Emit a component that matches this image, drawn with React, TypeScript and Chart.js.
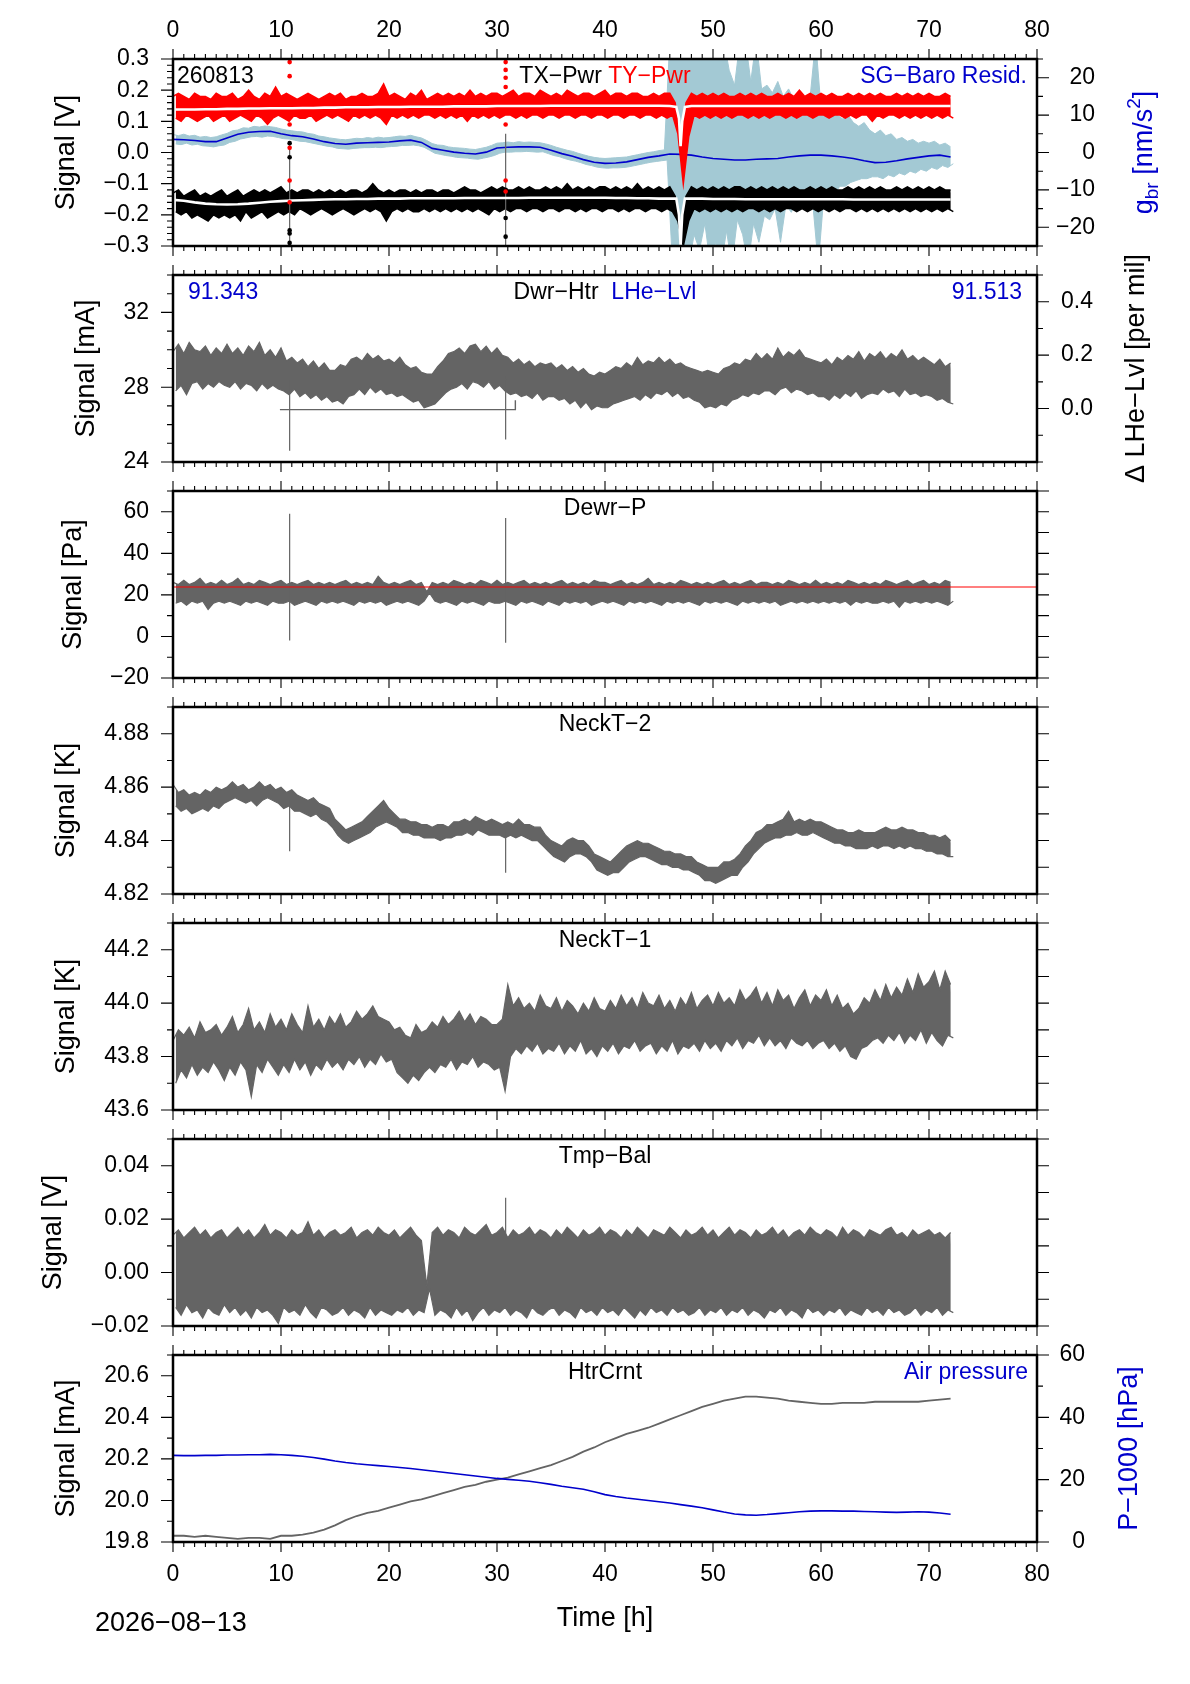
import { useEffect, useRef } from "react"
import { Chart, registerables } from "chart.js"

Chart.register(...registerables)

const FONT = '"Liberation Sans", Arial, Helvetica, sans-serif'
const BLACK = "#000000"
const GRAY = "#646464"
const RED = "#ff0000"
const BLUE = "#0000cc"
const LIGHT_BLUE = "#a3c9d4"
const M = "\u2212"

const PAGE_W = 1190
const PAGE_H = 1684
const FRAME_L = 173
const FRAME_R = 1037
const PANEL_H = 187
const MARGIN = 34

// ---- time grid ----
const STEP = 0.5
const HOURS = Array.from({ length: 145 }, (_, i) => i * STEP)
const HOURS_1H = Array.from({ length: 73 }, (_, i) => i)
const X_TICKS = [0, 10, 20, 30, 40, 50, 60, 70, 80]
const SPIKE_T = [10.8, 30.8]
const DIP_T = [46.6, 46.85, 47.0, 47.15, 47.4]

// ---- panel 1: TX/TY power (V) and SG-Baro residual (nm/s^2) ----
const TY_HI = [
  0.18, 0.19, 0.18, 0.17, 0.19, 0.18, 0.18, 0.17, 0.19, 0.18,
  0.18, 0.19, 0.17, 0.18, 0.20, 0.18, 0.17, 0.19, 0.18, 0.21,
  0.18, 0.19, 0.18, 0.17, 0.18, 0.19, 0.18, 0.17, 0.18, 0.19,
  0.18, 0.19, 0.17, 0.18, 0.18, 0.19, 0.18, 0.18, 0.19, 0.22,
  0.18, 0.19, 0.18, 0.17, 0.19, 0.18, 0.20, 0.17, 0.18, 0.19,
  0.18, 0.19, 0.18, 0.19, 0.18, 0.20, 0.18, 0.19, 0.18, 0.19,
  0.19, 0.18, 0.19, 0.20, 0.18, 0.19, 0.19, 0.18, 0.20, 0.19,
  0.18, 0.19, 0.18, 0.20, 0.19, 0.18, 0.19, 0.19, 0.18, 0.19,
  0.20, 0.18, 0.19, 0.19, 0.18, 0.19, 0.19, 0.18, 0.18, 0.19,
  0.18, 0.19, 0.19, 0.16, 0.02, 0.16, 0.19, 0.18, 0.19, 0.18,
  0.19, 0.18, 0.19, 0.18, 0.18, 0.19, 0.18, 0.19, 0.18, 0.19,
  0.18, 0.18, 0.19, 0.18, 0.19, 0.18, 0.20, 0.18, 0.19, 0.18,
  0.19, 0.18, 0.19, 0.18, 0.18, 0.19, 0.18, 0.19, 0.18, 0.19,
  0.18, 0.19, 0.18, 0.18, 0.19, 0.18, 0.19, 0.18, 0.19, 0.18,
  0.19, 0.18, 0.18, 0.19, 0.18,
]
const TY_LO = [
  0.11, 0.10, 0.12, 0.11, 0.10, 0.11, 0.12, 0.10, 0.11, 0.12,
  0.10, 0.11, 0.12, 0.11, 0.10, 0.12, 0.11, 0.09, 0.11, 0.12,
  0.11, 0.10, 0.12, 0.11, 0.11, 0.12, 0.10, 0.11, 0.12, 0.11,
  0.12, 0.11, 0.10, 0.12, 0.11, 0.12, 0.11, 0.12, 0.11, 0.09,
  0.12, 0.11, 0.12, 0.11, 0.12, 0.11, 0.12, 0.12, 0.11, 0.12,
  0.11, 0.12, 0.11, 0.12, 0.10, 0.12, 0.11, 0.12, 0.11, 0.12,
  0.11, 0.12, 0.12, 0.11, 0.12, 0.11, 0.12, 0.12, 0.11, 0.12,
  0.12, 0.11, 0.12, 0.12, 0.11, 0.12, 0.12, 0.11, 0.12, 0.12,
  0.11, 0.12, 0.12, 0.11, 0.12, 0.12, 0.11, 0.12, 0.12, 0.11,
  0.12, 0.11, 0.12, 0.06, -0.10, 0.05, 0.12, 0.11, 0.12, 0.11,
  0.12, 0.11, 0.12, 0.11, 0.12, 0.12, 0.11, 0.12, 0.11, 0.12,
  0.11, 0.12, 0.12, 0.11, 0.12, 0.11, 0.12, 0.12, 0.11, 0.12,
  0.12, 0.11, 0.12, 0.12, 0.11, 0.12, 0.11, 0.12, 0.12, 0.10,
  0.12, 0.11, 0.12, 0.12, 0.11, 0.12, 0.11, 0.12, 0.11, 0.12,
  0.11, 0.12, 0.11, 0.12, 0.11,
]
const TX_HI = [
  -0.13, -0.12, -0.14, -0.13, -0.12, -0.14, -0.13, -0.14, -0.13, -0.12,
  -0.14, -0.13, -0.12, -0.14, -0.13, -0.12, -0.13, -0.12, -0.13, -0.12,
  -0.11, -0.13, -0.12, -0.13, -0.12, -0.12, -0.13, -0.12, -0.13, -0.12,
  -0.13, -0.12, -0.13, -0.12, -0.12, -0.13, -0.12, -0.10, -0.12, -0.13,
  -0.12, -0.13, -0.12, -0.12, -0.13, -0.12, -0.13, -0.12, -0.12, -0.13,
  -0.12, -0.12, -0.13, -0.12, -0.11, -0.12, -0.12, -0.13, -0.12, -0.11,
  -0.12, -0.11, -0.12, -0.12, -0.11, -0.12, -0.11, -0.12, -0.12, -0.11,
  -0.12, -0.11, -0.12, -0.10, -0.12, -0.11, -0.12, -0.11, -0.12, -0.11,
  -0.11, -0.12, -0.11, -0.12, -0.11, -0.12, -0.10, -0.12, -0.11, -0.12,
  -0.11, -0.12, -0.11, -0.14, -0.26, -0.14, -0.11, -0.12, -0.11, -0.12,
  -0.11, -0.12, -0.11, -0.12, -0.11, -0.11, -0.12, -0.11, -0.12, -0.11,
  -0.12, -0.11, -0.12, -0.11, -0.12, -0.11, -0.12, -0.12, -0.11, -0.12,
  -0.11, -0.12, -0.11, -0.12, -0.12, -0.11, -0.12, -0.11, -0.12, -0.11,
  -0.12, -0.11, -0.12, -0.12, -0.11, -0.12, -0.11, -0.12, -0.11, -0.12,
  -0.11, -0.12, -0.11, -0.12, -0.12,
]
const TX_LO = [
  -0.19, -0.20, -0.19, -0.21, -0.20, -0.21, -0.22, -0.20, -0.21, -0.20,
  -0.21, -0.20, -0.22, -0.19, -0.21, -0.20, -0.19, -0.21, -0.20, -0.19,
  -0.20, -0.19, -0.20, -0.18, -0.19, -0.20, -0.19, -0.18, -0.19, -0.20,
  -0.19, -0.18, -0.19, -0.20, -0.19, -0.18, -0.19, -0.18, -0.19, -0.22,
  -0.19, -0.18, -0.19, -0.18, -0.19, -0.19, -0.18, -0.19, -0.18, -0.19,
  -0.18, -0.19, -0.18, -0.19, -0.18, -0.19, -0.18, -0.19, -0.20, -0.18,
  -0.19, -0.18, -0.19, -0.18, -0.18, -0.19, -0.18, -0.18, -0.19, -0.18,
  -0.18, -0.19, -0.18, -0.18, -0.19, -0.18, -0.19, -0.18, -0.18, -0.19,
  -0.18, -0.18, -0.19, -0.18, -0.19, -0.18, -0.18, -0.19, -0.18, -0.18,
  -0.19, -0.18, -0.19, -0.22, -0.30, -0.22, -0.18, -0.19, -0.18, -0.19,
  -0.18, -0.19, -0.18, -0.19, -0.18, -0.19, -0.18, -0.18, -0.19, -0.18,
  -0.19, -0.18, -0.19, -0.18, -0.18, -0.19, -0.18, -0.19, -0.18, -0.19,
  -0.18, -0.19, -0.18, -0.19, -0.18, -0.18, -0.19, -0.18, -0.19, -0.18,
  -0.19, -0.18, -0.19, -0.18, -0.19, -0.18, -0.19, -0.18, -0.19, -0.18,
  -0.19, -0.18, -0.19, -0.18, -0.19,
]
// smoothed (white) traces, hourly
const TY_MED = [
  0.138, 0.138, 0.138, 0.139, 0.139, 0.140, 0.140, 0.141, 0.141, 0.142,
  0.142, 0.142, 0.143, 0.143, 0.144, 0.144, 0.145, 0.145, 0.145, 0.146,
  0.146, 0.146, 0.147, 0.147, 0.147, 0.147, 0.148, 0.148, 0.148, 0.148,
  0.149, 0.149, 0.149, 0.149, 0.149, 0.150, 0.150, 0.150, 0.150, 0.150,
  0.150, 0.150, 0.150, 0.150, 0.150, 0.150, 0.149, 0.149, 0.149, 0.149,
  0.149, 0.149, 0.149, 0.149, 0.149, 0.149, 0.149, 0.149, 0.149, 0.149,
  0.149, 0.149, 0.149, 0.149, 0.149, 0.149, 0.149, 0.149, 0.149, 0.149,
  0.149, 0.149, 0.149,
]
const TX_MED = [
  -0.152, -0.155, -0.160, -0.164, -0.166, -0.167, -0.166, -0.164, -0.161, -0.158,
  -0.156, -0.154, -0.153, -0.152, -0.151, -0.150, -0.150, -0.149, -0.149, -0.148,
  -0.148, -0.148, -0.147, -0.147, -0.147, -0.147, -0.147, -0.146, -0.146, -0.146,
  -0.146, -0.146, -0.146, -0.145, -0.145, -0.145, -0.145, -0.145, -0.145, -0.145,
  -0.145, -0.146, -0.146, -0.147, -0.147, -0.148, -0.148, -0.148, -0.148, -0.148,
  -0.149, -0.149, -0.149, -0.150, -0.150, -0.150, -0.150, -0.150, -0.150, -0.150,
  -0.150, -0.150, -0.150, -0.151, -0.151, -0.151, -0.151, -0.151, -0.151, -0.151,
  -0.151, -0.151, -0.151,
]
const TY_DIP = [0.146, 0.11, 0.02, 0.10, 0.146]
const TX_DIP = [-0.148, -0.2, -0.3, -0.2, -0.148]
const P1_SPIKE_LOW = [-0.3, -0.3]
const P1_SPIKE_TOP = [0.03, 0.06]
const RED_DOTS_A = [0.29, 0.245, 0.16, 0.09, 0.015, -0.09, -0.16]
const RED_DOTS_B = [0.29, 0.265, 0.24, 0.21, 0.09, -0.09, -0.125]
const BLACK_DOTS_A = [0.03, -0.015, -0.25, -0.26, -0.29]
const BLACK_DOTS_B = [-0.12, -0.21, -0.27]

const SG_DARK = [
  3.5, 3.4, 3.2, 2.9, 2.9, 3.9, 4.9, 5.4, 5.6, 5.7,
  5.0, 4.5, 4.2, 3.6, 2.9, 2.4, 2.2, 2.5, 2.6, 2.7,
  2.8, 3.1, 3.3, 2.7, 1.1, 0.6, 0.1, -0.2, -0.4, 0.1,
  1.2, 1.4, 1.5, 1.5, 1.4, 0.6, -0.3, -1.0, -1.9, -2.6,
  -2.9, -2.8, -2.5, -1.9, -1.3, -0.9, -0.4, -0.5, -0.7, -1.2,
  -1.6, -1.8, -2.0, -2.0, -1.8, -1.7, -1.6, -1.2, -0.9, -0.7,
  -0.7, -0.9, -1.2, -1.6, -2.2, -2.7, -2.6, -2.2, -1.7, -1.3,
  -0.9, -0.7, -1.2,
]
const SG_HI = [
  4.8, 4.5, 4.9, 4.4, 4.6, 4.1, 4.3, 4.0, 4.2, 4.7,
  5.1, 5.8, 6.0, 6.6, 6.5, 7.0, 6.8, 7.1, 6.9, 6.7,
  6.3, 6.0, 5.8, 5.6, 5.5, 5.1, 4.9, 4.4, 4.2, 3.9,
  3.7, 3.5, 3.4, 3.6, 3.8, 3.7, 4.0, 3.8, 4.1, 3.9,
  4.0, 4.2, 4.4, 4.3, 4.6, 4.2, 3.9, 3.2, 2.4, 2.0,
  1.9, 1.5, 1.3, 1.2, 1.1, 0.9, 0.8, 1.1, 1.4, 1.9,
  2.5, 2.6, 2.8, 2.6, 2.9, 2.7, 2.8, 2.7, 2.6, 2.3,
  1.9, 1.4, 1.0, 0.6, 0.3, -0.2, -0.6, -1.0, -1.3, -1.5,
  -1.6, -1.5, -1.4, -1.3, -1.2, -0.9, -0.6, -0.3, 0.0, 0.2,
  0.5, 0.7, 30, 30, 30, 30, 30, 30, 30, 30,
  30, 30, 30, 22, 18, 30, 30, 19, 30, 17,
  18, 16, 19, 15, 17, 14, 16, 13, 15, 30,
  12, 11, 13, 10, 9, 10, 8, 7, 8, 6,
  5, 6, 4.5, 5, 3.5, 4, 3, 3.5, 2.5, 3,
  2.5, 3, 2, 2.5, 1.5,
]
const SG_LO = [
  2.3, 2.1, 2.5, 2.0, 2.2, 1.8, 1.7, 1.5, 1.8, 2.0,
  2.7, 3.0, 3.6, 3.9, 4.2, 4.3, 4.1, 4.4, 4.3, 4.0,
  3.7, 3.6, 3.3, 3.0, 2.9, 2.6, 2.3, 2.0, 1.7, 1.5,
  1.1, 1.0, 0.9, 1.1, 1.2, 1.3, 1.3, 1.4, 1.3, 1.5,
  1.6, 1.7, 1.9, 1.9, 2.0, 1.8, 1.4, 0.6, -0.2, -0.5,
  -0.8, -1.0, -1.3, -1.4, -1.5, -1.7, -1.8, -1.5, -1.2, -0.8,
  -0.2, 0.1, 0.1, 0.2, 0.2, 0.3, 0.2, 0.1, 0.2, -0.3,
  -0.8, -1.1, -1.6, -2.0, -2.3, -2.7, -3.2, -3.5, -3.9, -4.1,
  -4.2, -4.1, -4.1, -4.0, -3.8, -3.5, -3.2, -2.9, -2.6, -2.4,
  -2.2, -2.0, -30, -30, -30, -30, -22, -26, -19, -30,
  -24, -30, -21, -30, -18, -22, -30, -19, -24, -17,
  -18, -15, -24, -14, -16, -13, -15, -12, -14, -30,
  -12, -10, -11, -9, -9, -8, -7.5, -7, -7, -6.5,
  -6.5, -7, -6, -6.5, -5.5, -6, -5, -5.5, -4.5, -5,
  -4, -4.5, -3.5, -4, -3,
]

// ---- panel 2: Dwr-Htr (mA) ----
const DWR_HI = [
  29.9, 30.3, 29.8, 30.4, 30.0, 29.9, 30.2, 29.7, 30.1, 29.8,
  30.3, 29.8, 30.1, 29.7, 30.2, 29.9, 30.4, 29.7, 30.0, 29.6,
  30.1, 29.4, 29.6, 29.3, 29.5, 29.1, 29.4, 29.0, 29.3, 28.9,
  28.9, 29.2, 29.1, 29.5, 29.6, 29.4, 29.8, 29.5, 29.7, 29.4,
  29.5, 29.3, 29.6, 29.2, 29.0, 29.1, 28.8, 28.7, 28.7, 29.1,
  29.4, 29.8, 29.9, 30.1, 29.8, 30.2, 30.3, 29.9, 30.2, 29.8,
  30.1, 29.7, 29.6, 29.3, 29.5, 29.2, 29.4, 29.1, 29.3, 29.2,
  29.3, 29.0, 29.2, 28.9, 29.1, 28.8, 29.0, 28.7, 28.6, 28.8,
  28.7, 28.9, 29.1, 29.0, 29.3, 29.1, 29.6, 29.2, 29.4, 29.3,
  29.6, 29.3, 29.5, 29.2, 29.3, 29.1, 29.0, 28.9, 28.8, 28.9,
  28.8, 28.7, 29.0, 29.1, 29.3, 29.2, 29.5, 29.4, 29.8, 29.5,
  29.8, 29.5, 30.1, 29.6, 29.9, 29.7, 30.0, 29.6, 29.5, 29.4,
  29.3, 29.5, 29.2, 29.6, 29.4, 29.7, 29.5, 29.9, 29.4, 29.8,
  29.6, 29.9, 29.5, 29.8, 29.6, 30.0, 29.5, 29.7, 29.4, 29.6,
  29.4, 29.2, 29.5, 29.1, 29.3,
]
const DWR_LO = [
  27.8, 28.1, 27.6, 28.2, 28.3, 27.9, 28.2, 28.0, 28.3, 28.1,
  28.0, 28.3, 27.9, 28.2, 28.1, 27.8, 28.2, 27.9, 28.1, 27.9,
  27.8, 27.6, 27.9, 27.5, 27.7, 27.4, 27.6, 27.3, 27.5, 27.2,
  27.3, 27.1, 27.5, 27.6, 27.9, 27.6, 28.0, 27.7, 27.9, 27.6,
  27.7, 27.5, 27.6, 27.4, 27.2, 27.3, 26.9, 27.0, 27.1, 27.4,
  27.7, 27.9, 28.0, 28.2, 27.9, 28.3, 28.2, 28.0, 28.3, 27.9,
  28.1, 27.8, 27.6, 27.7, 27.5, 27.6, 27.4, 27.7, 27.3, 27.5,
  27.5, 27.3, 27.4, 27.1, 27.3, 26.9, 27.2, 26.8, 27.0, 26.9,
  26.9, 27.1, 27.2, 27.3, 27.4, 27.5, 27.3, 27.6, 27.4, 27.7,
  27.6, 27.8, 27.5, 27.7, 27.4, 27.5, 27.3, 27.2, 26.9, 27.0,
  26.9, 27.1, 27.0, 27.3, 27.4, 27.6, 27.5, 27.7, 27.6, 27.8,
  27.8, 27.6, 27.9, 28.0, 27.7, 27.9, 27.8, 27.6, 27.7, 27.5,
  27.5, 27.3, 27.6, 27.4, 27.7, 27.5, 27.8, 27.4, 27.6, 27.7,
  27.6, 27.9, 27.7, 27.8, 27.5, 27.9, 27.6, 27.7, 27.5, 27.6,
  27.5, 27.3, 27.4, 27.2, 27.1,
]
const DWR_SPIKE_LOW = [24.6, 25.2]
const DWR_SPIKE_TOP = [28.4, 28.6]
const DWR_BRACKET_T = [9.9, 31.7, 31.7]
const DWR_BRACKET_V = [26.8, 26.8, 27.3]

// ---- panel 3: Dewr-P (Pa) ----
const DEWR_HI = [
  26, 25, 27, 25, 26, 28, 25, 26, 25, 27,
  25, 26, 28, 25, 26, 25, 27, 26, 25, 26,
  27, 25, 26, 25, 26, 27, 25, 26, 25, 26,
  25, 26, 27, 25, 26, 25, 26, 25, 29, 26,
  25, 26, 25, 26, 27, 25, 26, 21.5, 26, 25,
  26, 25, 27, 26, 25, 26, 25, 27, 26, 25,
  27, 25, 26, 25, 26, 27, 25, 26, 25, 26,
  25, 26, 27, 25, 26, 25, 26, 25, 27, 26,
  26, 25, 26, 27, 25, 26, 25, 26, 28, 25,
  26, 25, 26, 25, 27, 26, 25, 26, 25, 26,
  25, 26, 27, 25, 26, 25, 26, 27, 25, 26,
  26, 25, 26, 25, 27, 26, 25, 26, 25, 27,
  25, 26, 25, 26, 25, 27, 26, 25, 26, 25,
  26, 25, 27, 26, 25, 26, 27, 25, 26, 27,
  25, 26, 25, 27, 26,
]
const DEWR_LO = [
  16, 17, 15, 17, 16, 17, 13, 16, 17, 16,
  17, 16, 15, 17, 16, 17, 16, 15, 17, 16,
  16, 17, 15, 16, 17, 16, 15, 17, 16, 17,
  16, 17, 16, 15, 17, 16, 17, 16, 17, 15,
  16, 17, 16, 17, 16, 15, 17, 21, 17, 16,
  17, 16, 15, 17, 16, 17, 16, 15, 17, 16,
  16, 17, 16, 15, 17, 16, 17, 16, 15, 17,
  16, 15, 17, 16, 17, 16, 17, 15, 16, 17,
  16, 17, 16, 15, 17, 16, 17, 16, 17, 16,
  15, 17, 16, 17, 16, 17, 16, 15, 17, 16,
  17, 16, 17, 16, 15, 17, 16, 17, 16, 17,
  16, 17, 15, 16, 17, 16, 17, 16, 17, 16,
  17, 16, 17, 16, 17, 15, 17, 16, 17, 16,
  16, 17, 16, 17, 14, 17, 16, 17, 16, 17,
  16, 17, 16, 15, 17,
]
const DEWR_SPIKE_LOW = [-2, -3]
const DEWR_SPIKE_TOP = [59, 57]
const DEWR_REF = 23.8

// ---- panel 4: NeckT-2 (K) ----
const NECK2_HI = [
  4.861, 4.858, 4.859, 4.857, 4.858, 4.857, 4.859, 4.858, 4.860, 4.859,
  4.860, 4.862, 4.860, 4.861, 4.859, 4.860, 4.862, 4.860, 4.861, 4.859,
  4.860, 4.858, 4.859, 4.857, 4.856, 4.855, 4.856, 4.854, 4.853, 4.852,
  4.848, 4.846, 4.844, 4.845, 4.846, 4.847, 4.849, 4.851, 4.853, 4.855,
  4.852, 4.850, 4.848, 4.848, 4.847, 4.847, 4.846, 4.846, 4.845, 4.846,
  4.846, 4.845, 4.847, 4.847, 4.848, 4.847, 4.849, 4.848, 4.847, 4.848,
  4.847, 4.846, 4.847, 4.846, 4.848, 4.846, 4.846, 4.845, 4.845, 4.842,
  4.840, 4.839, 4.838, 4.840, 4.841, 4.840, 4.840, 4.838, 4.835, 4.834,
  4.833, 4.832, 4.834, 4.836, 4.838, 4.839, 4.840, 4.839, 4.839, 4.838,
  4.837, 4.836, 4.836, 4.835, 4.835, 4.834, 4.834, 4.832, 4.831, 4.830,
  4.830, 4.830, 4.832, 4.832, 4.833, 4.835, 4.838, 4.840, 4.843, 4.844,
  4.846, 4.846, 4.847, 4.848, 4.851, 4.847, 4.848, 4.847, 4.848, 4.847,
  4.847, 4.846, 4.845, 4.844, 4.844, 4.843, 4.843, 4.844, 4.843, 4.843,
  4.843, 4.844, 4.845, 4.844, 4.844, 4.845, 4.844, 4.844, 4.843, 4.843,
  4.842, 4.842, 4.841, 4.842, 4.840,
]
const NECK2_LO = [
  4.853, 4.851, 4.852, 4.850, 4.851, 4.852, 4.851, 4.853, 4.852, 4.854,
  4.855, 4.856, 4.855, 4.854, 4.855, 4.853, 4.855, 4.856, 4.855, 4.854,
  4.852, 4.853, 4.851, 4.851, 4.850, 4.849, 4.850, 4.848, 4.847, 4.845,
  4.842, 4.840, 4.839, 4.840, 4.841, 4.842, 4.843, 4.845, 4.846, 4.847,
  4.846, 4.845, 4.843, 4.843, 4.842, 4.842, 4.841, 4.841, 4.841, 4.840,
  4.841, 4.841, 4.842, 4.842, 4.843, 4.842, 4.844, 4.843, 4.842, 4.842,
  4.842, 4.841, 4.842, 4.841, 4.842, 4.841, 4.840, 4.840, 4.838, 4.836,
  4.834, 4.833, 4.832, 4.834, 4.835, 4.835, 4.834, 4.832, 4.829, 4.828,
  4.827, 4.828, 4.828, 4.830, 4.832, 4.833, 4.834, 4.834, 4.833, 4.832,
  4.831, 4.831, 4.830, 4.830, 4.829, 4.829, 4.828, 4.827, 4.825, 4.825,
  4.824, 4.825, 4.826, 4.827, 4.827, 4.830, 4.832, 4.835, 4.837, 4.839,
  4.840, 4.841, 4.841, 4.842, 4.842, 4.843, 4.842, 4.842, 4.843, 4.842,
  4.841, 4.840, 4.839, 4.839, 4.838, 4.838, 4.837, 4.837, 4.837, 4.838,
  4.837, 4.838, 4.838, 4.837, 4.838, 4.837, 4.838, 4.837, 4.837, 4.836,
  4.836, 4.835, 4.835, 4.834, 4.834,
]
const NECK2_SPIKE_LOW = [4.836, 4.828]
const NECK2_SPIKE_TOP = [4.855, 4.844]

// ---- panel 5: NeckT-1 (K) ----
const NECK1_HI = [
  43.86, 43.90, 43.88, 43.91, 43.87, 43.93, 43.89, 43.90, 43.92, 43.88,
  43.91, 43.95, 43.89, 43.92, 43.98, 43.90, 43.93, 43.89, 43.96, 43.91,
  43.94, 43.90, 43.96, 43.92, 43.89, 43.99, 43.91, 43.94, 43.90, 43.95,
  43.92, 43.96, 43.91, 43.93, 43.97, 43.94, 43.96, 43.99, 43.95, 43.94,
  43.93, 43.90, 43.91, 43.88, 43.87, 43.92, 43.89, 43.90, 43.93, 43.91,
  43.95, 43.92, 43.94, 43.97, 43.93, 43.96, 43.92, 43.95, 43.94, 43.92,
  43.92, 43.94, 44.07, 43.99, 44.02, 43.98, 44.00, 43.97, 44.03, 43.99,
  43.98, 44.02, 43.97, 44.01, 43.99, 43.96, 44.00, 43.97, 44.02, 43.98,
  43.97, 44.01, 43.98, 44.03, 43.99, 44.02, 43.98, 44.04, 44.00, 43.99,
  44.03, 43.98, 44.01, 43.97, 44.02, 43.99, 44.04, 43.98, 44.01, 44.03,
  43.99, 44.04, 44.00, 44.02, 43.99, 44.05, 44.01, 44.03, 44.06, 44.00,
  44.04, 43.99, 44.05, 44.01, 44.03, 43.98, 44.02, 44.05, 43.99, 44.03,
  44.01, 44.05, 43.99, 44.03, 43.98, 44.00, 43.96, 43.98, 44.02, 44.00,
  44.05, 44.01, 44.07, 44.02, 44.06, 44.03, 44.09, 44.04, 44.11, 44.06,
  44.08, 44.12, 44.05, 44.12, 44.07,
]
const NECK1_LO = [
  43.70, 43.75, 43.72, 43.77, 43.73, 43.76, 43.74, 43.78, 43.75, 43.71,
  43.76, 43.73, 43.78, 43.75, 43.65, 43.77, 43.74, 43.79, 43.76, 43.73,
  43.77, 43.74, 43.79, 43.75, 43.78, 43.73, 43.77, 43.75, 43.79, 43.76,
  43.78, 43.75, 43.79, 43.77, 43.80, 43.76, 43.79, 43.77, 43.81, 43.78,
  43.79, 43.74, 43.72, 43.70, 43.73, 43.71, 43.74, 43.76, 43.74, 43.77,
  43.76, 43.79, 43.75, 43.78, 43.77, 43.80, 43.76, 43.78, 43.77, 43.75,
  43.76, 43.67, 43.80, 43.83, 43.81, 43.84, 43.82, 43.85, 43.81, 43.83,
  43.82, 43.85, 43.81, 43.84, 43.82, 43.86, 43.81, 43.83, 43.80, 43.84,
  43.82, 43.85, 43.81, 43.84, 43.83, 43.86, 43.82, 43.84, 43.85, 43.81,
  43.84, 43.82, 43.86, 43.81, 43.84, 43.83, 43.85, 43.82, 43.86, 43.83,
  43.85, 43.82, 43.86, 43.84, 43.87, 43.83, 43.86, 43.85, 43.88, 43.84,
  43.87, 43.84, 43.86, 43.83, 43.87, 43.85, 43.84, 43.86, 43.83, 43.85,
  43.86, 43.83, 43.85, 43.82, 43.84, 43.80, 43.79, 43.83, 43.84, 43.86,
  43.87, 43.85, 43.88, 43.86, 43.89, 43.85, 43.88, 43.86, 43.90, 43.85,
  43.89, 43.86, 43.84, 43.88, 43.87,
]

// ---- panel 6: Tmp-Bal (V) ----
const TMP_HI = [
  0.014, 0.016, 0.013, 0.015, 0.017, 0.014, 0.016, 0.013, 0.015, 0.016,
  0.013, 0.015, 0.017, 0.014, 0.016, 0.013, 0.015, 0.018, 0.014, 0.016,
  0.015, 0.013, 0.016, 0.014, 0.015, 0.019, 0.014, 0.016, 0.013, 0.015,
  0.016, 0.014, 0.015, 0.017, 0.013, 0.015, 0.016, 0.014, 0.017, 0.015,
  0.014, 0.016, 0.013, 0.015, 0.017, 0.014, 0.012, -0.005, 0.015, 0.017,
  0.014, 0.016, 0.015, 0.013, 0.017, 0.015, 0.014, 0.016, 0.018, 0.014,
  0.015, 0.017, 0.013, 0.016, 0.014, 0.015, 0.017, 0.014, 0.016, 0.015,
  0.013, 0.016, 0.014, 0.017, 0.015, 0.013, 0.016, 0.014, 0.015, 0.017,
  0.014, 0.016, 0.015, 0.013, 0.016, 0.014, 0.017, 0.015, 0.013, 0.016,
  0.015, 0.014, 0.017, 0.015, 0.013, 0.016, 0.014, 0.015, 0.017, 0.014,
  0.016, 0.013, 0.015, 0.017, 0.014, 0.016, 0.015, 0.013, 0.016, 0.014,
  0.015, 0.017, 0.014, 0.016, 0.013, 0.015, 0.016, 0.014, 0.017, 0.015,
  0.014, 0.016, 0.015, 0.013, 0.017, 0.014, 0.016, 0.015, 0.013, 0.016,
  0.015, 0.014, 0.016, 0.017, 0.014, 0.015, 0.013, 0.016, 0.014, 0.015,
  0.016, 0.014, 0.015, 0.013, 0.015,
]
const TMP_LO = [
  -0.013, -0.016, -0.012, -0.015, -0.014, -0.017, -0.013, -0.015, -0.016, -0.012,
  -0.015, -0.013, -0.016, -0.014, -0.017, -0.013, -0.015, -0.014, -0.016, -0.019,
  -0.013, -0.015, -0.014, -0.016, -0.012, -0.015, -0.017, -0.013, -0.014, -0.016,
  -0.015, -0.013, -0.016, -0.014, -0.015, -0.017, -0.013, -0.016, -0.014, -0.015,
  -0.016, -0.014, -0.015, -0.013, -0.016, -0.014, -0.015, -0.006, -0.016, -0.014,
  -0.015, -0.017, -0.013, -0.016, -0.014, -0.018, -0.015, -0.013, -0.016, -0.014,
  -0.015, -0.013, -0.016, -0.014, -0.015, -0.017, -0.013, -0.015, -0.016, -0.014,
  -0.013, -0.016, -0.014, -0.015, -0.017, -0.013, -0.015, -0.014, -0.016, -0.013,
  -0.015, -0.014, -0.016, -0.013, -0.015, -0.017, -0.014, -0.016, -0.013, -0.015,
  -0.014, -0.016, -0.013, -0.015, -0.014, -0.016, -0.015, -0.013, -0.016, -0.014,
  -0.015, -0.013, -0.016, -0.014, -0.015, -0.013, -0.016, -0.014, -0.015, -0.017,
  -0.014, -0.015, -0.013, -0.016, -0.014, -0.015, -0.017, -0.013, -0.015, -0.014,
  -0.016, -0.014, -0.015, -0.013, -0.016, -0.014, -0.015, -0.016, -0.013, -0.015,
  -0.014, -0.016, -0.013, -0.015, -0.014, -0.016, -0.015, -0.013, -0.016, -0.014,
  -0.015, -0.013, -0.016, -0.014, -0.015,
]
const TMP_SPIKE_T = [30.8]
const TMP_SPIKE_LOW = [0]
const TMP_SPIKE_TOP = [0.028]

// ---- panel 7: HtrCrnt (mA) and air pressure (hPa - 1000), hourly ----
const HTR = [
  19.83, 19.83, 19.825, 19.83, 19.825, 19.82, 19.815, 19.82, 19.82, 19.815,
  19.83, 19.83, 19.835, 19.845, 19.86, 19.88, 19.905, 19.925, 19.94, 19.95,
  19.965, 19.98, 19.995, 20.005, 20.02, 20.035, 20.05, 20.065, 20.075, 20.09,
  20.10, 20.11, 20.125, 20.14, 20.155, 20.17, 20.19, 20.21, 20.235, 20.255,
  20.28, 20.30, 20.32, 20.335, 20.35, 20.37, 20.39, 20.41, 20.43, 20.45,
  20.465, 20.48, 20.49, 20.50, 20.50, 20.495, 20.49, 20.48, 20.475, 20.47,
  20.465, 20.465, 20.47, 20.47, 20.47, 20.475, 20.475, 20.475, 20.475, 20.475,
  20.48, 20.485, 20.49,
]
const AIR = [
  27.8, 27.7, 27.7, 27.8, 27.8, 27.9, 27.9, 28.0, 28.0, 28.1,
  28.0, 27.8, 27.5, 27.1, 26.6, 26.0, 25.5, 25.1, 24.8, 24.5,
  24.2, 23.9, 23.6, 23.2, 22.8, 22.4, 22.0, 21.6, 21.2, 20.8,
  20.4, 20.1, 19.8, 19.5, 19.0, 18.5, 17.9, 17.4, 16.9, 16.1,
  15.2, 14.6, 14.1, 13.7, 13.3, 12.9, 12.5, 12.0, 11.5, 11.0,
  10.3, 9.6, 9.0, 8.7, 8.6, 8.8, 9.1, 9.4, 9.7, 9.9,
  10.0, 10.0, 9.9, 9.9, 9.8, 9.7, 9.6, 9.5, 9.6, 9.7,
  9.6, 9.3, 8.9,
]

// ---- helpers ----
type Pt = { x: number; y: number | null }
const series = (xs: number[], ys: number[]): Pt[] => xs.map((x, i) => ({ x, y: ys[i] }))
// lower envelope is sampled half a step later, so the band edges interleave
const shifted = (ys: number[]): Pt[] => ys.map((y, i) => ({ x: HOURS[i] + STEP / 2, y }))
const verticals = (ts: number[], lows: number[], highs: number[]): Pt[] =>
  ts.flatMap((t, i) => [
    { x: t, y: lows[i] },
    { x: t, y: highs[i] },
    { x: t, y: null },
  ])
const withDip = (hourly: number[], dip: number[]): Pt[] =>
  [
    ...series(HOURS_1H, hourly).filter((p) => p.x < DIP_T[0] || p.x > DIP_T[DIP_T.length - 1]),
    ...series(DIP_T, dip),
  ].sort((a, b) => a.x - b.x)
const dots = (t: number, ys: number[]): Pt[] => ys.map((y) => ({ x: t, y }))

const lineDs = (data: Pt[], color: string, width: number, order: number, extra: any = {}) => ({
  data,
  borderColor: color,
  backgroundColor: color,
  borderWidth: width,
  pointRadius: 0,
  tension: 0,
  fill: false,
  order,
  ...extra,
})
// a noisy trace drawn as its upper and lower envelope with the space between filled
const band = (hi: number[], lo: number[], color: string, width: number, order: number, extra: any = {}) => [
  lineDs(series(HOURS, hi), color, width, order, extra),
  lineDs(shifted(lo), color, width, order, { ...extra, fill: "-1" }),
]
const dotDs = (data: Pt[], color: string, order: number) => ({
  data,
  showLine: false,
  pointRadius: 2.3,
  pointBorderWidth: 0,
  pointBackgroundColor: color,
  borderColor: color,
  order,
})

const fmt = (v: number, d: number) => (Math.abs(v) < 1e-9 ? 0 : v).toFixed(d).replace("-", M)
const steps = (min: number, max: number, step: number) => {
  const n = Math.round((max - min) / step)
  return Array.from({ length: n + 1 }, (_, k) => min + k * step)
}

// ---- panel specs ----
type Part = [string, string]
interface Label {
  align: "left" | "center" | "right"
  dx: number
  parts: Part[]
}
interface TitlePart {
  text: string
  size: number
  dy?: number
}
interface Axis {
  min: number
  max: number
  ticks: number[]
  minor: number
  decimals: number
}
interface PanelSpec {
  top: number
  xAxis?: "top" | "bottom"
  y: Axis & { title: string; titleX: number }
  y2?: Axis & { right: number; titleX: number; titleColor: string; title: TitlePart[] }
  labels: Label[]
  notes?: { text: string; x: number; y: number; size: number }[]
  datasets: any[]
}

const PANELS: PanelSpec[] = [
  {
    top: 59,
    xAxis: "top",
    y: { min: -0.3, max: 0.3, ticks: [-0.3, -0.2, -0.1, 0, 0.1, 0.2, 0.3], minor: 0.02, decimals: 1, title: "Signal [V]", titleX: 67 },
    y2: {
      min: -25, max: 25, ticks: [-20, -10, 0, 10, 20], minor: 5, decimals: 0, right: 1095, titleX: 1142, titleColor: BLUE,
      title: [
        { text: "g", size: 27 },
        { text: "br", size: 19, dy: 6 },
        { text: " [nm/s", size: 27 },
        { text: "2", size: 19, dy: -12 },
        { text: "]", size: 27 },
      ],
    },
    labels: [
      { align: "left", dx: 4, parts: [["260813", BLACK]] },
      { align: "center", dx: 0, parts: [["TX" + M + "Pwr ", BLACK], ["TY" + M + "Pwr", RED]] },
      { align: "right", dx: 10, parts: [["SG" + M + "Baro Resid.", BLUE]] },
    ],
    datasets: [
      ...band(SG_HI, SG_LO, LIGHT_BLUE, 1, 10, { yAxisID: "y2" }),
      lineDs(series(HOURS_1H, SG_DARK), BLUE, 1.6, 9, { yAxisID: "y2" }),
      ...band(TY_HI, TY_LO, RED, 1.5, 8),
      ...band(TX_HI, TX_LO, BLACK, 1.5, 7),
      lineDs(verticals(SPIKE_T, P1_SPIKE_LOW, P1_SPIKE_TOP), GRAY, 1.2, 6),
      lineDs(withDip(TY_MED, TY_DIP), "#ffffff", 2.6, 5),
      lineDs(withDip(TX_MED, TX_DIP), "#ffffff", 2.6, 4),
      dotDs([...dots(SPIKE_T[0], BLACK_DOTS_A), ...dots(SPIKE_T[1], BLACK_DOTS_B)], BLACK, 3),
      dotDs([...dots(SPIKE_T[0], RED_DOTS_A), ...dots(SPIKE_T[1], RED_DOTS_B)], RED, 2),
    ],
  },
  {
    top: 275,
    y: { min: 24, max: 34, ticks: [24, 28, 32], minor: 1, decimals: 0, title: "Signal [mA]", titleX: 87 },
    y2: {
      min: -0.2, max: 0.5, ticks: [0, 0.2, 0.4], minor: 0.1, decimals: 1, right: 1093, titleX: 1134, titleColor: BLACK,
      title: [{ text: "\u0394 LHe" + M + "Lvl [per mil]", size: 27 }],
    },
    labels: [
      { align: "left", dx: 15, parts: [["91.343", BLUE]] },
      { align: "center", dx: 0, parts: [["Dwr" + M + "Htr", BLACK], ["  LHe" + M + "Lvl", BLUE]] },
      { align: "right", dx: 15, parts: [["91.513", BLUE]] },
    ],
    datasets: [
      ...band(DWR_HI, DWR_LO, GRAY, 1.2, 5),
      lineDs(verticals(SPIKE_T, DWR_SPIKE_LOW, DWR_SPIKE_TOP), GRAY, 1.2, 4),
      lineDs(series(DWR_BRACKET_T, DWR_BRACKET_V), GRAY, 1.4, 3),
    ],
  },
  {
    top: 491,
    y: { min: -20, max: 70, ticks: [-20, 0, 20, 40, 60], minor: 10, decimals: 0, title: "Signal [Pa]", titleX: 74 },
    labels: [{ align: "center", dx: 0, parts: [["Dewr" + M + "P", BLACK]] }],
    datasets: [
      ...band(DEWR_HI, DEWR_LO, GRAY, 1.2, 5),
      lineDs(verticals(SPIKE_T, DEWR_SPIKE_LOW, DEWR_SPIKE_TOP), GRAY, 1.2, 4),
      lineDs(series([0, 80], [DEWR_REF, DEWR_REF]), RED, 1.2, 1),
    ],
  },
  {
    top: 707,
    y: { min: 4.82, max: 4.89, ticks: [4.82, 4.84, 4.86, 4.88], minor: 0.01, decimals: 2, title: "Signal [K]", titleX: 67 },
    labels: [{ align: "center", dx: 0, parts: [["NeckT" + M + "2", BLACK]] }],
    datasets: [
      ...band(NECK2_HI, NECK2_LO, GRAY, 1.2, 5),
      lineDs(verticals(SPIKE_T, NECK2_SPIKE_LOW, NECK2_SPIKE_TOP), GRAY, 1.2, 4),
    ],
  },
  {
    top: 923,
    y: { min: 43.6, max: 44.3, ticks: [43.6, 43.8, 44.0, 44.2], minor: 0.1, decimals: 1, title: "Signal [K]", titleX: 67 },
    labels: [{ align: "center", dx: 0, parts: [["NeckT" + M + "1", BLACK]] }],
    datasets: [...band(NECK1_HI, NECK1_LO, GRAY, 1.2, 5)],
  },
  {
    top: 1139,
    y: { min: -0.02, max: 0.05, ticks: [-0.02, 0, 0.02, 0.04], minor: 0.01, decimals: 2, title: "Signal [V]", titleX: 54 },
    labels: [{ align: "center", dx: 0, parts: [["Tmp" + M + "Bal", BLACK]] }],
    datasets: [
      ...band(TMP_HI, TMP_LO, GRAY, 1.2, 5),
      lineDs(verticals(TMP_SPIKE_T, TMP_SPIKE_LOW, TMP_SPIKE_TOP), GRAY, 1.2, 4),
    ],
  },
  {
    top: 1355,
    xAxis: "bottom",
    y: { min: 19.8, max: 20.7, ticks: [19.8, 20.0, 20.2, 20.4, 20.6], minor: 0.1, decimals: 1, title: "Signal [mA]", titleX: 67 },
    y2: {
      min: 0, max: 60, ticks: [0, 20, 40, 60], minor: 10, decimals: 0, right: 1085, titleX: 1127, titleColor: BLUE,
      title: [{ text: "P" + M + "1000 [hPa]", size: 27 }],
    },
    labels: [
      { align: "center", dx: 0, parts: [["HtrCrnt", BLACK]] },
      { align: "right", dx: 9, parts: [["Air pressure", BLUE]] },
    ],
    notes: [{ text: "2026" + M + "08" + M + "13", x: 95, y: 1631, size: 27 }],
    datasets: [
      lineDs(series(HOURS_1H, HTR), GRAY, 1.8, 5),
      lineDs(series(HOURS_1H, AIR), BLUE, 1.6, 4, { yAxisID: "y2" }),
    ],
  },
]

function geometry(spec: PanelSpec) {
  const top = spec.xAxis === "top" ? 0 : spec.top - MARGIN
  const bottom = spec.xAxis === "bottom" ? PAGE_H : spec.top + PANEL_H + MARGIN
  return { top, height: bottom - top }
}

// frame, GMT-style ticks, panel labels and right-hand titles
function framePlugin(spec: PanelSpec, canvasTop: number) {
  return {
    id: "gmtFrame",
    afterDraw(chart: Chart) {
      const { ctx, chartArea: a } = chart
      const sx: any = chart.scales.x
      const sy: any = chart.scales.y
      const sy2: any = chart.scales.y2
      const isMajor = (v: number, ax: Axis) => ax.ticks.some((t) => Math.abs(t - v) < ax.minor / 10)
      ctx.save()
      ctx.strokeStyle = BLACK
      ctx.lineWidth = 1.1
      ctx.beginPath()
      for (let h = 0; h <= 80; h++) {
        const px = sx.getPixelForValue(h)
        const len = h % 10 === 0 ? 10 : 5
        ctx.moveTo(px, a.top)
        ctx.lineTo(px, a.top - len)
        ctx.moveTo(px, a.bottom)
        ctx.lineTo(px, a.bottom + len)
      }
      for (const v of steps(spec.y.min, spec.y.max, spec.y.minor)) {
        const py = sy.getPixelForValue(v)
        ctx.moveTo(a.left, py)
        ctx.lineTo(a.left - (isMajor(v, spec.y) ? 12 : 6), py)
        if (!spec.y2) {
          ctx.moveTo(a.right, py)
          ctx.lineTo(a.right + 12, py)
        }
      }
      if (spec.y2 && sy2) {
        for (const v of steps(spec.y2.min, spec.y2.max, spec.y2.minor)) {
          const py = sy2.getPixelForValue(v)
          ctx.moveTo(a.right, py)
          ctx.lineTo(a.right + (isMajor(v, spec.y2) ? 12 : 6), py)
        }
      }
      ctx.stroke()
      ctx.lineWidth = 2.5
      ctx.strokeRect(a.left, a.top, a.right - a.left, a.bottom - a.top)

      // panel labels
      ctx.font = `23px ${FONT}`
      ctx.textBaseline = "alphabetic"
      ctx.textAlign = "left"
      for (const l of spec.labels) {
        const widths = l.parts.map((p) => ctx.measureText(p[0]).width)
        const total = widths.reduce((s, w) => s + w, 0)
        let x =
          l.align === "left" ? a.left + l.dx : l.align === "right" ? a.right - l.dx - total : (a.left + a.right) / 2 - total / 2
        l.parts.forEach((p, i) => {
          ctx.fillStyle = p[1]
          ctx.fillText(p[0], x, a.top + 24)
          x += widths[i]
        })
      }

      // right-hand axis title, reading bottom to top
      if (spec.y2) {
        const t = spec.y2
        ctx.save()
        ctx.translate(t.titleX, (a.top + a.bottom) / 2)
        ctx.rotate(-Math.PI / 2)
        const widths = t.title.map((p) => {
          ctx.font = `${p.size}px ${FONT}`
          return ctx.measureText(p.text).width
        })
        let x = -widths.reduce((s, w) => s + w, 0) / 2
        ctx.fillStyle = t.titleColor
        t.title.forEach((p, i) => {
          ctx.font = `${p.size}px ${FONT}`
          ctx.fillText(p.text, x, 9.5 + (p.dy ?? 0))
          x += widths[i]
        })
        ctx.restore()
      }

      for (const n of spec.notes ?? []) {
        ctx.font = `${n.size}px ${FONT}`
        ctx.fillStyle = BLACK
        ctx.fillText(n.text, n.x, n.y - canvasTop)
      }
      ctx.restore()
    },
  }
}

const noPadding = (s: any) => {
  s.paddingTop = 0
  s.paddingBottom = 0
  s.paddingLeft = 0
  s.paddingRight = 0
}

function buildConfig(spec: PanelSpec, canvasTop: number, height: number): any {
  const padRight = spec.y2 ? PAGE_W - spec.y2.right : PAGE_W - FRAME_R
  const xHeight = spec.xAxis === "top" ? spec.top : canvasTop + height - (spec.top + PANEL_H)
  const tickFont = { family: FONT, size: 23 }
  const titleFont = { family: FONT, size: 27 }
  const noGrid = { display: false, drawTicks: false }
  const scales: any = {
    x: {
      type: "linear",
      min: 0,
      max: 80,
      bounds: "data",
      position: spec.xAxis ?? "bottom",
      display: !!spec.xAxis,
      grid: noGrid,
      border: { display: false },
      ticks: {
        autoSkip: false,
        maxRotation: 0,
        font: tickFont,
        color: BLACK,
        padding: spec.xAxis === "top" ? 15 : 19,
        callback: (v: number) => String(v),
      },
      afterBuildTicks: (s: any) => {
        s.ticks = X_TICKS.map((value) => ({ value }))
      },
      afterFit: (s: any) => {
        s.height = spec.xAxis ? xHeight : 0
        noPadding(s)
      },
      title: {
        display: spec.xAxis === "bottom",
        text: "Time [h]",
        font: titleFont,
        color: BLACK,
        padding: { top: 0, bottom: 49 },
      },
    },
    y: {
      type: "linear",
      position: "left",
      min: spec.y.min,
      max: spec.y.max,
      bounds: "data",
      grid: noGrid,
      border: { display: false },
      ticks: {
        autoSkip: false,
        font: tickFont,
        color: BLACK,
        padding: 24,
        callback: (v: number) => fmt(v, spec.y.decimals),
      },
      afterBuildTicks: (s: any) => {
        s.ticks = spec.y.ticks.map((value) => ({ value }))
      },
      afterFit: (s: any) => {
        s.width = FRAME_L
        noPadding(s)
      },
      title: {
        display: true,
        text: spec.y.title,
        font: titleFont,
        color: BLACK,
        padding: { top: spec.y.titleX - 16.2, bottom: 0 },
      },
    },
  }
  if (spec.y2) {
    const y2 = spec.y2
    scales.y2 = {
      type: "linear",
      position: "right",
      min: y2.min,
      max: y2.max,
      bounds: "data",
      grid: noGrid,
      border: { display: false },
      ticks: {
        autoSkip: false,
        font: tickFont,
        color: BLACK,
        crossAlign: "far",
        callback: (v: number) => fmt(v, y2.decimals),
      },
      afterBuildTicks: (s: any) => {
        s.ticks = y2.ticks.map((value) => ({ value }))
      },
      afterFit: (s: any) => {
        s.width = y2.right - FRAME_R
        noPadding(s)
      },
      title: { display: false },
    }
  }
  return {
    type: "line",
    data: { datasets: spec.datasets },
    options: {
      animation: false,
      responsive: false,
      events: [],
      layout: {
        autoPadding: false,
        padding: {
          left: 0,
          right: padRight,
          top: spec.xAxis === "top" ? 0 : spec.top - canvasTop,
          bottom: spec.xAxis === "bottom" ? 0 : canvasTop + height - spec.top - PANEL_H,
        },
      },
      plugins: { legend: { display: false }, tooltip: { enabled: false } },
      scales,
    },
    plugins: [framePlugin(spec, canvasTop)],
  }
}

function Panel({ spec }: { spec: PanelSpec }) {
  const canvasRef = useRef<HTMLCanvasElement>(null)
  const { top, height } = geometry(spec)

  useEffect(() => {
    if (!canvasRef.current) return
    const chart = new Chart(canvasRef.current, buildConfig(spec, top, height))
    return () => {
      chart.destroy()
    }
  }, [spec, top, height])

  return (
    <canvas
      ref={canvasRef}
      width={PAGE_W}
      height={height}
      style={{ position: "absolute", left: 0, top, width: PAGE_W, height }}
    />
  )
}

export default function App() {
  return (
    <div style={{ position: "absolute", left: 0, top: 0, width: PAGE_W, height: PAGE_H, background: "#fff" }}>
      {PANELS.map((spec) => (
        <Panel key={spec.top} spec={spec} />
      ))}
    </div>
  )
}
